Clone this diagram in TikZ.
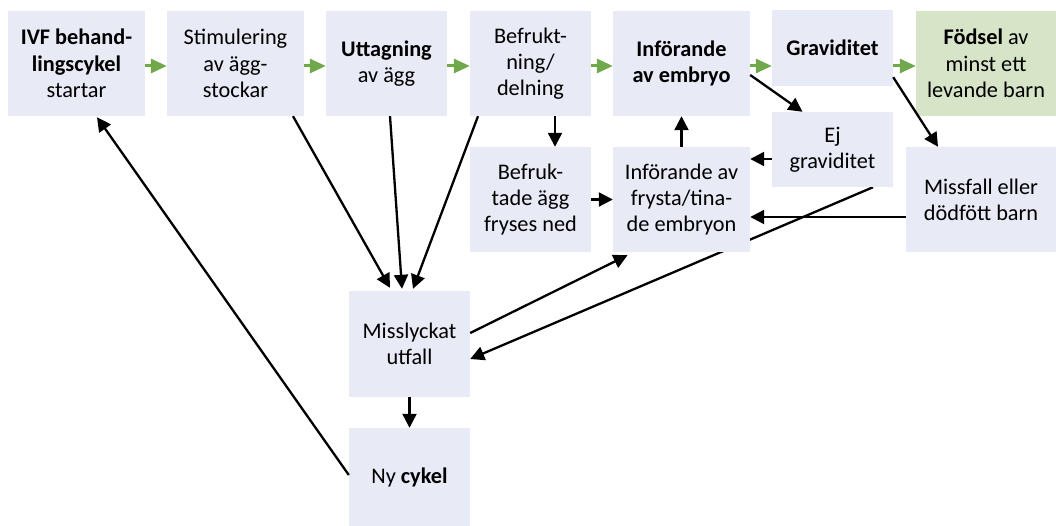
\documentclass[tikz,border=0pt]{standalone}
\usepackage{fontspec}
\setmainfont{Carlito}
\usetikzlibrary{arrows.meta,backgrounds,calc}
\definecolor{boxfill}{RGB}{232,234,246}
\definecolor{greenfill}{RGB}{215,228,200}
\definecolor{arrowgreen}{RGB}{112,168,76}
\tikzset{
  box/.style={fill=boxfill, draw=none, align=center, inner sep=0pt,
    font=\fontsize{22.3}{26.3}\selectfont},
  gbox/.style={box, fill=greenfill},
  garrow/.style={draw=arrowgreen, line width=3pt, -{Triangle[length=16pt,width=14pt]}, arrowgreen},
  barrow/.style={draw=black, line width=2.3pt, -{Triangle[length=14pt,width=14pt]}},
}
\begin{document}
\begin{tikzpicture}[x=1pt,y=-1pt]
\useasboundingbox (0,0) rectangle (1056,526);
% row 1
\node[box, minimum width=137pt, minimum height=105pt] (A) at (76.5,63.5) {\textbf{IVF behand-}\\\textbf{lingscykel}\\startar};
\node[box, minimum width=137pt, minimum height=105pt] (B) at (235.5,63.5) {Stimulering\\av ägg-\\stockar};
\node[box, minimum width=121pt, minimum height=105pt] (C) at (386.5,63.5) {\textbf{Uttagning}\\av ägg};
\node[box, minimum width=121pt, minimum height=105pt] (D) at (530.5,63.5) {Befrukt-\\ning/\\delning};
\node[box, minimum width=137pt, minimum height=105pt] (E) at (681.5,63.5) {\textbf{Införande}\\\textbf{av embryo}};
\node[box, minimum width=121pt, minimum height=76pt] (F) at (832.5,48) {\textbf{Graviditet}};
\node[gbox, minimum width=140pt, minimum height=105pt] (G) at (986,63.5) {\textbf{Födsel} av\\minst ett\\levande barn};
% row 2
\node[box, minimum width=121pt, minimum height=75pt] (Ej) at (832.5,149.5) {Ej\\graviditet};
\node[box, minimum width=121pt, minimum height=105pt] (H) at (530.5,199.5) {Befruk-\\tade ägg\\fryses ned};
\node[box, minimum width=137pt, minimum height=105pt] (I) at (681.5,199.5) {Införande av\\frysta/tina-\\de embryon};
\node[box, minimum width=150pt, minimum height=105pt] (M) at (981,199.5) {Missfall eller\\dödfött barn};
% row 3
\node[box, minimum width=121pt, minimum height=106pt] (L) at (409.5,344) {Misslyckat\\utfall};
\node[box, minimum width=121pt, minimum height=98pt] (N) at (409.5,477) {Ny \textbf{cykel}};

\begin{scope}[on background layer]
\draw[barrow] ([xshift=40.5pt]Ej.south) -- ([yshift=-15pt]L.east);
\end{scope}

% green arrows
\draw[garrow] ([yshift=-2.5pt]A.east) -- ([yshift=-2.5pt]B.west);
\draw[garrow] ([yshift=-2.5pt]B.east) -- ([yshift=-2.5pt]C.west);
\draw[garrow] ([yshift=-2.5pt]C.east) -- ([yshift=-2.5pt]D.west);
\draw[garrow] ([yshift=-2.5pt]D.east) -- ([yshift=-2.5pt]E.west);
\draw[garrow] ([yshift=-2.5pt]E.east) -- ([yshift=-2.5pt]E.east -| F.west);
\draw[garrow] ([yshift=-2.5pt]G.west -| F.east) -- ([yshift=-2.5pt]G.west);

% black arrows
\draw[barrow] ([yshift=-11.5pt]E.east) -- ([xshift=-30pt]Ej.north);
\draw[barrow] ([yshift=9pt]F.south east) -- ([xshift=-43pt]M.north);
\draw[barrow] ([xshift=24.5pt]D.south) -- ([xshift=24.5pt]H.north);
\draw[barrow] (I.north) -- (E.south);
\draw[barrow] ([yshift=-9.5pt]Ej.west) -- ([yshift=-9.5pt]Ej.west -| I.east);
\draw[barrow] (H.east) -- (I.west);
\draw[barrow] ([yshift=-17.5pt]M.west) -- ([yshift=-17.5pt]M.west -| I.east);
\draw[barrow] ([xshift=57.5pt]B.south) -- ([xshift=-19.5pt,yshift=3pt]L.north);
\draw[barrow] ([xshift=3.5pt]C.south) -- ([xshift=-7.5pt,yshift=2pt]L.north);
\draw[barrow] ([xshift=-52.5pt]D.south) -- ([xshift=3.5pt,yshift=2pt]L.north);
\draw[barrow] ([yshift=11pt]L.east) -- ([xshift=-54pt,yshift=-3pt]I.south);
\draw[barrow] (L.south) -- (N.north);
\draw[barrow] ([yshift=2pt]N.west) -- ([xshift=20.5pt,yshift=-1pt]A.south);
\end{tikzpicture}
\end{document}
